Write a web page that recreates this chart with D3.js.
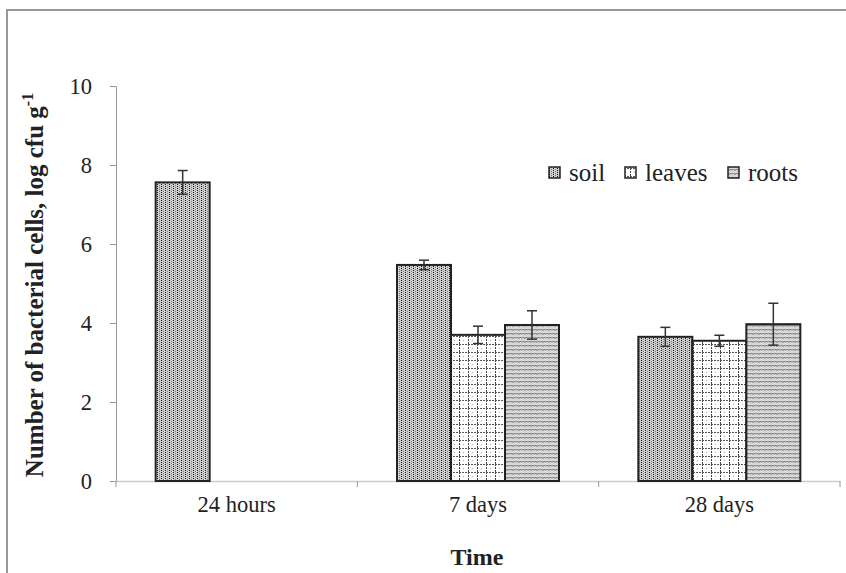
<!DOCTYPE html>
<html><head><meta charset="utf-8">
<script src="https://cdn.jsdelivr.net/npm/d3@7"></script>
<style>body{margin:0;background:#fff}svg{display:block}text{font-family:"Liberation Serif","Times New Roman",serif;fill:#222}</style>
</head><body><svg id="c" width="846" height="573"></svg>
<script>
const categories = ["24 hours", "7 days", "28 days"];
const seriesNames = ["soil", "leaves", "roots"];
const soil = [7.56, 5.47, 3.65];
const soilErr = [0.3, 0.12, 0.24];
const leaves = [null, 3.70, 3.55];
const leavesErr = [null, 0.22, 0.14];
const roots = [null, 3.95, 3.97];
const rootsErr = [null, 0.36, 0.53];
const yTicks = [0, 2, 4, 6, 8, 10];

const values = [soil, leaves, roots];
const errs = [soilErr, leavesErr, rootsErr];

const svg = d3.select("#c");
const defs = svg.append("defs");
// soil pattern: vertical dotted stripes
const p1 = defs.append("pattern").attr("id","pSoil").attr("patternUnits","userSpaceOnUse").attr("width",4).attr("height",4);
p1.append("rect").attr("width",4).attr("height",4).attr("fill","#d0d0d0");
p1.append("rect").attr("x",1).attr("y",0).attr("width",1).attr("height",1).attr("fill","#111");
p1.append("rect").attr("x",1).attr("y",2).attr("width",1).attr("height",1).attr("fill","#111");
p1.append("rect").attr("x",3).attr("y",1).attr("width",1).attr("height",1).attr("fill","#777");
p1.append("rect").attr("x",3).attr("y",3).attr("width",1).attr("height",1).attr("fill","#777");
// leaves pattern: dashed grid on white
const p2 = defs.append("pattern").attr("id","pLeaves").attr("patternUnits","userSpaceOnUse").attr("width",9).attr("height",8);
p2.append("rect").attr("width",9).attr("height",8).attr("fill","#fff");
p2.append("line").attr("x1",0.5).attr("x2",0.5).attr("y1",0).attr("y2",8).attr("stroke","#444").attr("stroke-width",1).attr("stroke-dasharray","2,1");
p2.append("line").attr("x1",0).attr("x2",9).attr("y1",0.5).attr("y2",0.5).attr("stroke","#555").attr("stroke-width",1).attr("stroke-dasharray","2,1");
p2.append("rect").attr("x",4).attr("y",4).attr("width",1).attr("height",1).attr("fill","#aaa");
// roots pattern: wavy lines
const p3 = defs.append("pattern").attr("id","pRoots").attr("patternUnits","userSpaceOnUse").attr("width",6).attr("height",4);
p3.append("rect").attr("width",6).attr("height",4).attr("fill","#d8d8d8");
p3.append("path").attr("d","M0,2.5 L1.5,1 L3,2.5 L4.5,1 L6,2.5").attr("fill","none").attr("stroke","#555").attr("stroke-width",0.9);
const fills = ["url(#pSoil)","url(#pLeaves)","url(#pRoots)"];

// outer frame
svg.append("rect").attr("x",7).attr("y",10).attr("width",850).attr("height",580).attr("fill","none").attr("stroke","#999").attr("stroke-width",2);

const x = d3.scaleBand().domain(categories).range([116, 840]).paddingInner(0).paddingOuter(0);
const xs = d3.scaleBand().domain(seriesNames).range([0, 162]);
const y = d3.scaleLinear().domain([0, 10]).range([481, 86]);

// y axis
const ya = svg.append("g").attr("transform","translate(116,0)")
  .call(d3.axisLeft(y).tickValues(yTicks).tickSize(6).tickPadding(18).tickFormat(d3.format("d")));
ya.select(".domain").attr("stroke","#999");
ya.selectAll(".tick line").attr("stroke","#999");
ya.selectAll(".tick text").attr("font-size",22.5).attr("font-family","Liberation Serif").attr("fill","#222");

// x axis
const xa = svg.append("g").attr("transform","translate(0,481)")
  .call(d3.axisBottom(x).tickSize(0).tickPadding(15));
xa.select(".domain").attr("stroke","#ccc").attr("stroke-width",1.5);
xa.selectAll(".tick text").attr("font-size",22.5).attr("font-family","Liberation Serif").attr("fill","#222");
// boundary ticks
const bounds = categories.map(c => x(c)).concat([x.range()[1]]);
svg.append("g").selectAll("line").data(bounds).join("line")
  .attr("x1",d=>d).attr("x2",d=>d).attr("y1",481).attr("y2",487).attr("stroke","#999");

// bars
const bars = [];
seriesNames.forEach((s,si)=>{
  categories.forEach((c,ci)=>{
    const v = values[si][ci];
    if (v == null) return;
    bars.push({s, si, c, v, e: errs[si][ci]});
  });
});
const bx = d => x(d.c) + (x.bandwidth() - 162)/2 + xs(d.s);
svg.append("g").selectAll("rect").data(bars).join("rect")
  .attr("x", bx).attr("y", d=>y(d.v)).attr("width", xs.bandwidth()).attr("height", d=>y(0)-y(d.v))
  .attr("fill", d=>fills[d.si]).attr("stroke","#222").attr("stroke-width",2);

// error bars
const eg = svg.append("g").attr("stroke","#333").attr("stroke-width",1.5);
bars.forEach(d=>{
  const cx = bx(d) + xs.bandwidth()/2;
  eg.append("line").attr("x1",cx).attr("x2",cx).attr("y1",y(d.v+d.e)).attr("y2",y(d.v-d.e));
  eg.append("line").attr("x1",cx-5).attr("x2",cx+5).attr("y1",y(d.v+d.e)).attr("y2",y(d.v+d.e));
  eg.append("line").attr("x1",cx-5).attr("x2",cx+5).attr("y1",y(d.v-d.e)).attr("y2",y(d.v-d.e));
});

// legend
const legX = [549, 625, 728];
const lg = svg.append("g");
seriesNames.forEach((s,i)=>{
  lg.append("rect").attr("x",legX[i]).attr("y",167).attr("width",11).attr("height",11)
    .attr("fill",fills[i]).attr("stroke","#222").attr("stroke-width",1.5);
  lg.append("text").attr("x",legX[i]+20).attr("y",181).attr("font-size",25).text(s);
});

// axis titles
const yl = svg.append("text").attr("transform","translate(43,285) rotate(-90)").attr("text-anchor","middle")
  .attr("font-size",25).attr("font-weight","bold");
yl.append("tspan").text("Number of bacterial cells, log cfu g");
yl.append("tspan").attr("dy",-10).attr("font-size",16).text("-1");
svg.append("text").attr("x",477).attr("y",565).attr("text-anchor","middle").attr("font-size",24).attr("font-weight","bold").text("Time");
</script></body></html>
